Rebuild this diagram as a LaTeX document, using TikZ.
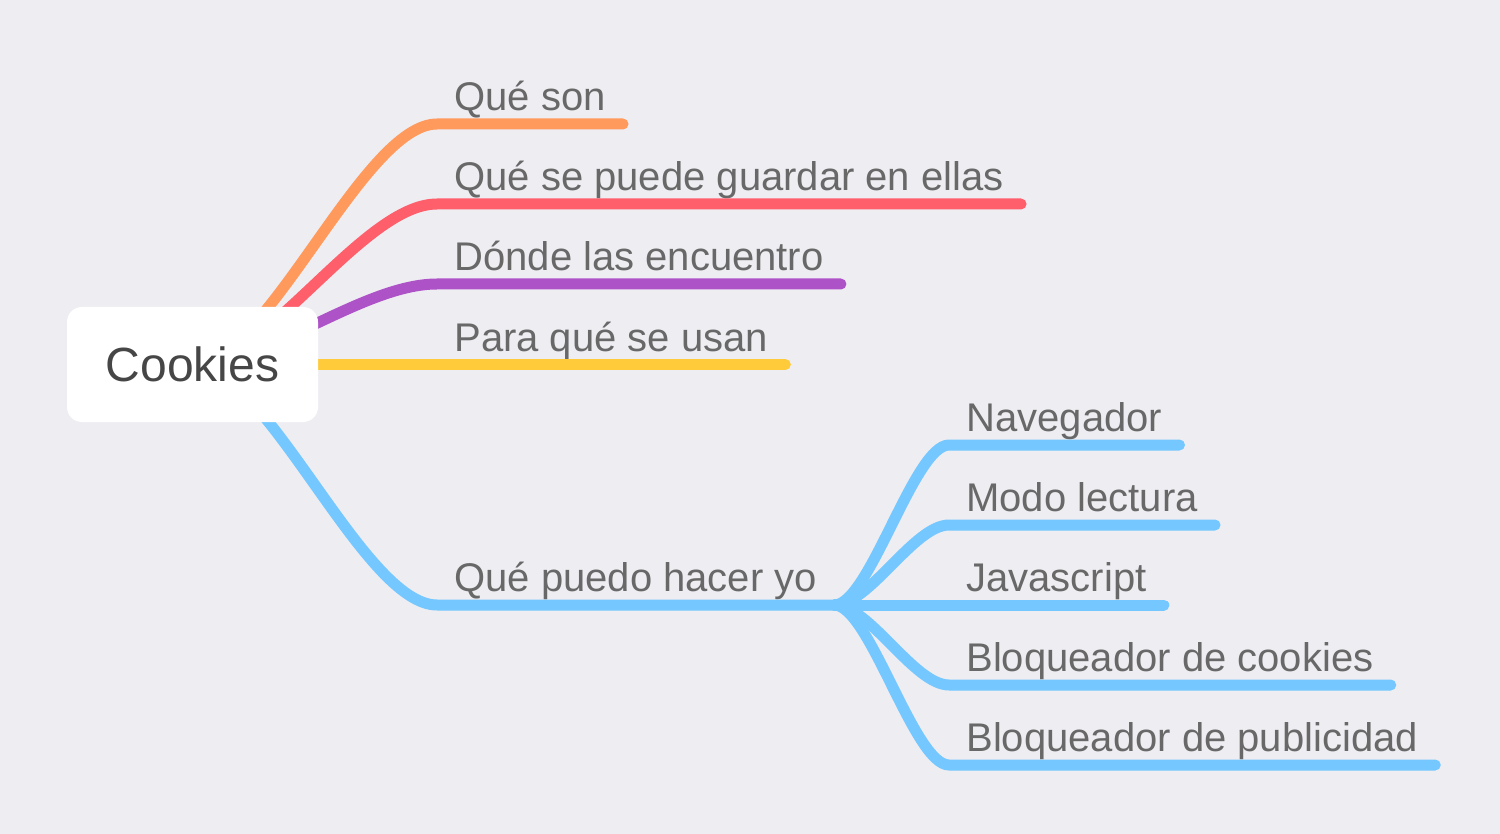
\documentclass[tikz,border=0pt]{standalone}
\usepackage{fontspec}
\setmainfont{Liberation Sans}
\usetikzlibrary{positioning}
\definecolor{bg}{HTML}{EEEDF2}
\definecolor{labelgrey}{HTML}{686868}
\definecolor{rootgrey}{HTML}{464646}
\definecolor{bOrange}{HTML}{FF9A5C}
\definecolor{bRed}{HTML}{FF5E6B}
\definecolor{bPurple}{HTML}{AE52C8}
\definecolor{bYellow}{HTML}{FFCB3B}
\definecolor{bBlue}{HTML}{74C8FF}

\begin{document}
\begin{tikzpicture}[x=0.5pt, y=-0.5pt,
        topic/.style={anchor=south west, inner xsep=8.5pt, inner ysep=6.5pt, text depth=0pt,
            text=labelgrey, font=\fontsize{20}{24}\selectfont},
        root/.style={fill=white, rounded corners=7.5pt, minimum width=125.5pt, minimum height=57.5pt,
            text=rootgrey, font=\fontsize{24}{28}\selectfont},
        branch/.style={line width=5.5pt, line cap=round, to path={.. controls +(#1,0) and +(-#1,0) ..
            (\tikztotarget.south west) -- (\tikztotarget.south east)}}
    ]
        \fill[bg] (0,0) rectangle (1500,834);
        \coordinate (c) at (192.5,364.5);

        \node[topic] (son) at (437,124) {Qué son};
        \node[topic] (guardar) at (437,204) {Qué se puede guardar en ellas};
        \node[topic] (donde) at (437,284) {Dónde las encuentro};
        \node[topic] (usan) at (437,364.5) {Para qué se usan};
        \node[topic] (yo) at (437,605) {Qué puedo hacer yo};

        \node[topic] (nav) at (949,445) {Navegador};
        \node[topic] (modo) at (949,525) {Modo lectura};
        \node[topic] (js) at (949,605) {Javascript};
        \node[topic] (galletas) at (949,685) {Bloqueador de cookies};
        \node[topic] (anuncios) at (949,765) {Bloqueador de publicidad};

        \draw[branch=74] (c) edge[bOrange] (son)
        (c) edge[bRed] (guardar)
        (c) edge[bPurple] (donde)
        (c) edge[bYellow] (usan)
        (c) edge[bBlue] (yo)
        ;
        \draw[branch=35, bBlue] (yo.south east) edge (nav)
        (yo.south east) edge (modo)
        (yo.south east) edge (js)
        (yo.south east) edge (galletas)
        (yo.south east) edge (anuncios)
        ;

        \node[root] (root) at (c) {Cookies};
    \end{tikzpicture}
\end{document}
